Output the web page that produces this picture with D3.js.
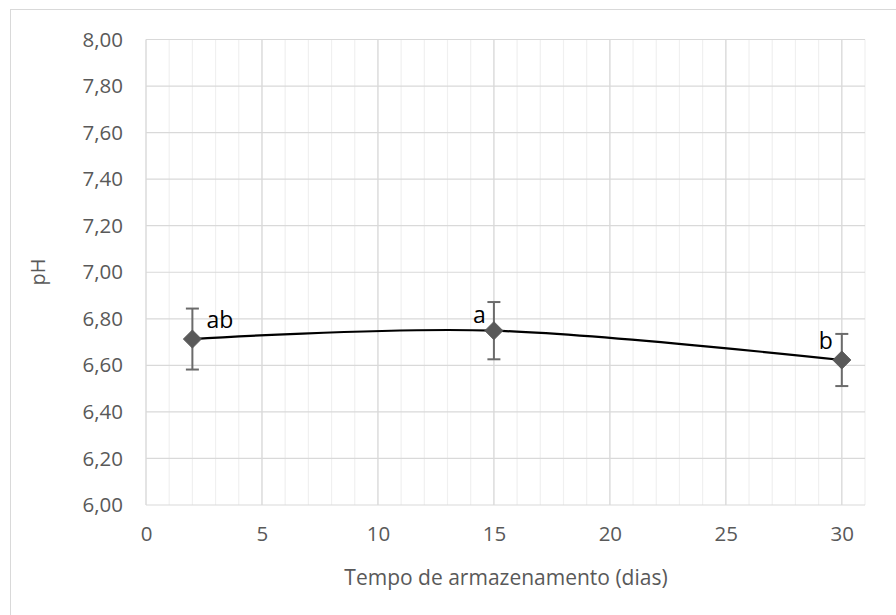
<!DOCTYPE html>
<html>
<head>
<meta charset="utf-8">
<script src="https://cdn.jsdelivr.net/npm/d3@7"></script>
<style>
  body { margin: 0; background: #fff; }
  text { font-family: "Open Sans", sans-serif; }
</style>
</head>
<body>
<div class="canvas"></div>
<script>
// data
const days = [2, 15, 30];
const phValues = [6.713, 6.749, 6.623];
const phErrors = [0.131, 0.123, 0.112];
const letters = ['ab', 'a', 'b'];
const xTicks = [0, 5, 10, 15, 20, 25, 30];
const yTicks = [6.0, 6.2, 6.4, 6.6, 6.8, 7.0, 7.2, 7.4, 7.6, 7.8, 8.0];

const width = 896, height = 615;

const svg = d3.select('.canvas')
    .append('svg')
    .attr('width', width)
    .attr('height', height);

// outer chart border
svg.append('rect')
    .attr('x', 10.5).attr('y', 9.5)
    .attr('width', 890).attr('height', 620)
    .attr('fill', 'none')
    .attr('stroke', '#d9d9d9');

const margin = {top: 39.5, left: 146};

const graph = svg.append('g')
    .attr('transform', `translate(${margin.left},${margin.top})`);

const x = d3.scaleLinear()
    .domain([0, 31])
    .range([0, 719]);

const y = d3.scaleLinear()
    .domain([6, 8])
    .range([465.5, 0]);

// minor vertical gridlines
graph.append('g').selectAll('line')
    .data(d3.range(0, 32))
    .enter().append('line')
    .attr('x1', d => x(d)).attr('x2', d => x(d))
    .attr('y1', 0).attr('y2', y(6))
    .attr('stroke', '#f0f0f0')
    .attr('stroke-width', 1.2);

// major vertical gridlines
graph.append('g').selectAll('line')
    .data(xTicks)
    .enter().append('line')
    .attr('x1', d => x(d)).attr('x2', d => x(d))
    .attr('y1', 0).attr('y2', y(6))
    .attr('stroke', '#d9d9d9')
    .attr('stroke-width', 1.2);

// horizontal gridlines
graph.append('g').selectAll('line')
    .data(yTicks)
    .enter().append('line')
    .attr('x1', 0).attr('x2', x(31))
    .attr('y1', d => y(d)).attr('y2', d => y(d))
    .attr('stroke', '#d9d9d9')
    .attr('stroke-width', 1.2);

// axes (labels only)
const xAxis = d3.axisBottom(x)
    .tickValues(xTicks)
    .tickSize(0)
    .tickPadding(21);
const yAxis = d3.axisLeft(y)
    .tickValues(yTicks)
    .tickSize(0)
    .tickPadding(23)
    .tickFormat(d => d3.format('.2f')(d).replace('.', ','));

const xAxisGroup = graph.append('g')
    .attr('transform', `translate(0, ${y(6)})`)
    .call(xAxis);
const yAxisGroup = graph.append('g').call(yAxis);

[xAxisGroup, yAxisGroup].forEach(g => {
    g.select('.domain').remove();
    g.selectAll('text')
        .attr('fill', '#595959')
        .style('font-size', '20.5px')
        .style('font-family', '"Open Sans", sans-serif');
});

// axis titles
svg.append('text')
    .attr('x', 506).attr('y', 585)
    .attr('text-anchor', 'middle')
    .attr('fill', '#595959')
    .style('font-size', '21px')
    .text('Tempo de armazenamento (dias)');

svg.append('text')
    .attr('transform', 'translate(45, 272) rotate(-90)')
    .attr('text-anchor', 'middle')
    .attr('fill', '#595959')
    .style('font-size', '20px')
    .text('pH');

const points = days.map((d, i) => ({day: d, ph: phValues[i], err: phErrors[i], label: letters[i]}));

// smoothed line
const line = d3.line()
    .x(d => x(d.day))
    .y(d => y(d.ph))
    .curve(d3.curveCardinal.tension(0));

graph.append('path')
    .datum(points)
    .attr('d', line)
    .attr('fill', 'none')
    .attr('stroke', '#000')
    .attr('stroke-width', 2.2);

// error bars
const errG = graph.append('g').attr('stroke', '#6b6b6b').attr('stroke-width', 2);
errG.selectAll('.stem')
    .data(points).enter().append('line')
    .attr('x1', d => x(d.day)).attr('x2', d => x(d.day))
    .attr('y1', d => y(d.ph + d.err)).attr('y2', d => y(d.ph - d.err));
errG.selectAll('.capTop')
    .data(points).enter().append('line')
    .attr('x1', d => x(d.day) - 6.5).attr('x2', d => x(d.day) + 6.5)
    .attr('y1', d => y(d.ph + d.err)).attr('y2', d => y(d.ph + d.err));
errG.selectAll('.capBot')
    .data(points).enter().append('line')
    .attr('x1', d => x(d.day) - 6.5).attr('x2', d => x(d.day) + 6.5)
    .attr('y1', d => y(d.ph - d.err)).attr('y2', d => y(d.ph - d.err));

// diamond markers
graph.selectAll('.marker')
    .data(points).enter().append('path')
    .attr('d', 'M0,-9L9,0L0,9L-9,0Z')
    .attr('transform', d => `translate(${x(d.day)},${y(d.ph)})`)
    .attr('fill', '#595959')
    .attr('stroke', '#595959')
    .attr('stroke-width', 1);

// significance letters
const labelOffsets = [{dx: 14, dy: -11, anchor: 'start'}, {dx: -8, dy: -8, anchor: 'end'}, {dx: -9, dy: -11, anchor: 'end'}];
graph.selectAll('.letter')
    .data(points).enter().append('text')
    .attr('x', (d, i) => x(d.day) + labelOffsets[i].dx)
    .attr('y', (d, i) => y(d.ph) + labelOffsets[i].dy)
    .attr('text-anchor', (d, i) => labelOffsets[i].anchor)
    .attr('fill', '#000')
    .style('font-size', '23px')
    .text(d => d.label);
</script>
</body>
</html>
